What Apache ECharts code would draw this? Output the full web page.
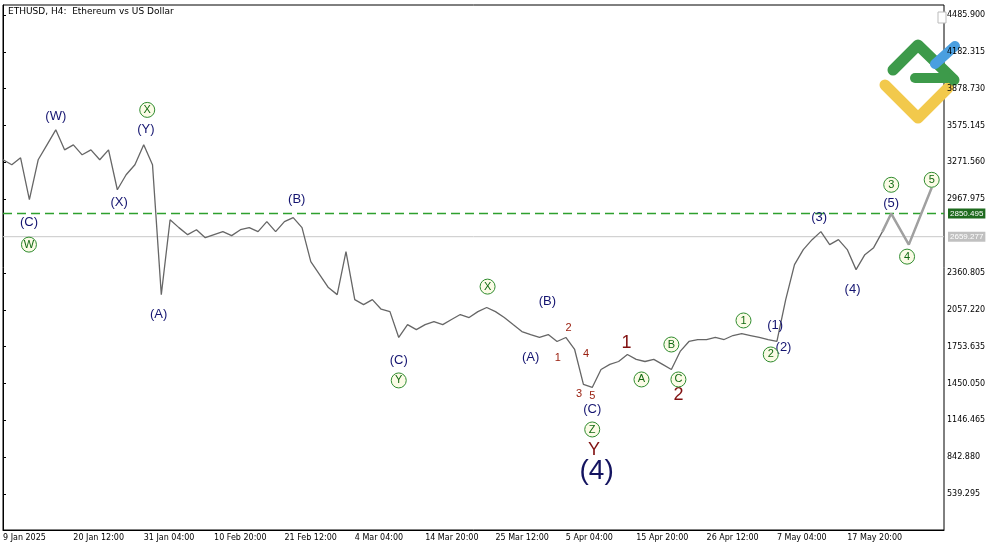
<!DOCTYPE html>
<html><head><meta charset="utf-8">
<script src="https://cdn.jsdelivr.net/npm/echarts@6/dist/echarts.min.js"></script>
<style>html,body{margin:0;padding:0;background:#fff}#c{width:1000px;height:545px}</style>
</head><body><div id="c"></div>
<script>
const tickLabels = ['9 Jan 2025','20 Jan 12:00','31 Jan 04:00','10 Feb 20:00','21 Feb 12:00','4 Mar 04:00','14 Mar 20:00','25 Mar 12:00','5 Apr 04:00','15 Apr 20:00','26 Apr 12:00','7 May 04:00','17 May 20:00'];
const priceTicks = [539.295,842.88,1146.465,1450.05,1753.635,2057.22,2360.805,2967.975,3271.56,3575.145,3878.73,4182.315,4485.9];
const price = [3293,3252,3309,2964,3293,3416,3540,3375,3416,3334,3375,3293,3375,3046,3170,3252,3416,3252,2182,2799,
2734,2676,2717,2651,2676,2701,2668,2717,2734,2701,2783,2701,2783,2816,2734,2454,2347,2240,2182,2536,
2141,2100,2141,2062,2042,1829,1935,1894,1935,1960,1935,1977,2018,1993,2042,2076,2042,1993,1935,1878,
1853,1829,1853,1796,1829,1730,1442,1417,1565,1607,1631,1689,1648,1631,1648,1607,1565,1714,1796,1812,
1812,1829,1812,1845,1861,1845,1829,1812,1796,2141,2429,2553,2635,2701,2594,2635,2553,2388,2511,2569,2701];
const projection = [[100,2701],[101,2850],[103,2594],[105.6,3063]];
const resistance = 2850.495, current = 2659.277;
const navyLabels = [[6,3647,'(W)'],[16.25,3540,'(Y)'],[13.2,2939,'(X)'],[2.95,2775,'(C)'],[17.7,2018,'(A)'],[33.4,2964,'(B)'],[45,1639,'(C)'],[61.9,2125,'(B)'],[60,1664,'(A)'],[67,1236,'(C)'],[87.8,1927,'(1)'],[88.75,1746,'(2)'],[92.8,2816,'(3)'],[96.6,2223,'(4)'],[101,2931,'(5)']];
const bigNavy = [[67.5,726,'(4)']];
const circled = [[2.95,2594,'W'],[16.4,3704,'X'],[45,1475,'Y'],[55.1,2248,'X'],[67,1071,'Z'],[72.6,1483,'A'],[76,1771,'B'],[76.8,1483,'C'],[84.2,1969,'1'],[87.3,1689,'2'],[101,3087,'3'],[102.8,2495,'4'],[105.6,3128,'5']];
const redSmall = [[63.1,1664,'1'],[64.3,1911,'2'],[65.5,1360,'3'],[66.3,1689,'4'],[67,1343,'5']];
const redBig = [[70.9,1787,'1'],[76.8,1351,'2'],[67.2,899,'Y']];

const N = 108;
const cats = [];
for (let i=0;i<N;i++) cats.push(i%8===0 ? (tickLabels[i/8]||'') : '');
const txt = (arr, color, size) => ({
  type:'scatter', xAxisIndex:1, symbolSize:1, silent:true, z:5,
  itemStyle:{opacity:0},
  data: arr.map(a=>({value:[a[0],a[1]], label:{formatter:a[2]}})),
  label:{show:true,position:'inside',color:color,fontSize:size,opacity:1,fontFamily:'Liberation Sans, Arial'}
});
const hline = (v, color, type, width, bg) => ({type:'line',xAxisIndex:1,z:1,silent:true,symbol:'none',
  data:[[0,v],[N-1,v]],lineStyle:{color:color,type:type,width:width},
  endLabel:{show:true,formatter:v.toFixed(3),backgroundColor:bg,color:'#fff',fontSize:8,padding:[1,2],distance:4}});
const chart = echarts.init(document.getElementById('c'));
chart.setOption({
  animation:false,
  title:{text:'ETHUSD, H4:  Ethereum vs US Dollar',left:3,top:2,textStyle:{fontSize:9,fontWeight:'normal',color:'#000',fontFamily:'DejaVu Sans'}},
  grid:{left:2,right:56,top:5,bottom:15,show:true,borderColor:'#000',borderWidth:1},
  xAxis:[{type:'category',data:cats,boundaryGap:false,
    axisLine:{lineStyle:{color:'#000'}},axisTick:{show:false},
    axisLabel:{interval:0,align:'left',fontSize:8,color:'#000',margin:4,fontFamily:'DejaVu Sans'},splitLine:{show:false}},
    {type:'value',min:0,max:N-1,show:false}],
  yAxis:{type:'value',position:'right',min:242.7,max:4568.3,
    axisLine:{show:true,lineStyle:{color:'#000'}},
    axisTick:{show:true,length:3,lineStyle:{color:'#000'},customValues:priceTicks},
    axisLabel:{fontSize:8,color:'#000',margin:3,fontFamily:'DejaVu Sans',customValues:priceTicks,formatter:v=>v.toFixed(3)},
    splitLine:{show:false}},
  graphic:[
    {type:'polyline',shape:{points:[[885,85],[918,118],[948,88]]},style:{stroke:'#f2c94c',lineWidth:11,lineCap:'round',lineJoin:'round',fill:null}},
    {type:'polyline',shape:{points:[[893,70],[918,45],[954,80]]},style:{stroke:'#3d9a4a',lineWidth:11,lineCap:'round',lineJoin:'round',fill:null}},
    {type:'line',shape:{x1:935,y1:64,x2:955,y2:46},style:{stroke:'#4a9fe0',lineWidth:10,lineCap:'round'}},
    {type:'line',shape:{x1:915,y1:78,x2:948,y2:78},style:{stroke:'#3d9a4a',lineWidth:10,lineCap:'round'}},
    {type:'rect',shape:{x:938,y:12,width:8,height:11},style:{fill:'#fff',stroke:'#bbb'}}
  ],
  series:[
    hline(current,'#c8c8c8','solid',1,'#c0c0c0'),
    hline(resistance,'#2ea02e',[9,5],1.6,'#1e6b1e'),
    {type:'line',data:price,symbol:'none',lineStyle:{color:'#666',width:1.3},z:3},
    {type:'line',xAxisIndex:1,data:projection,symbol:'none',lineStyle:{color:'#a0a0a0',width:2.5},z:2},
    txt(navyLabels,'#141470',13),
    txt(bigNavy,'#141460',28),
    {type:'scatter',xAxisIndex:1,symbol:'circle',symbolSize:15,z:6,silent:true,
     itemStyle:{color:'#fbfbe6',borderColor:'#2e8b2e',borderWidth:1,opacity:1},
     data:circled.map(a=>({value:[a[0],a[1]],label:{formatter:a[2]}})),
     label:{show:true,position:'inside',color:'#126a12',fontSize:11,fontFamily:'Liberation Sans'}},
    txt(redSmall,'#9a2010',11),
    txt(redBig,'#801010',18)
  ]
});
</script></body></html>
